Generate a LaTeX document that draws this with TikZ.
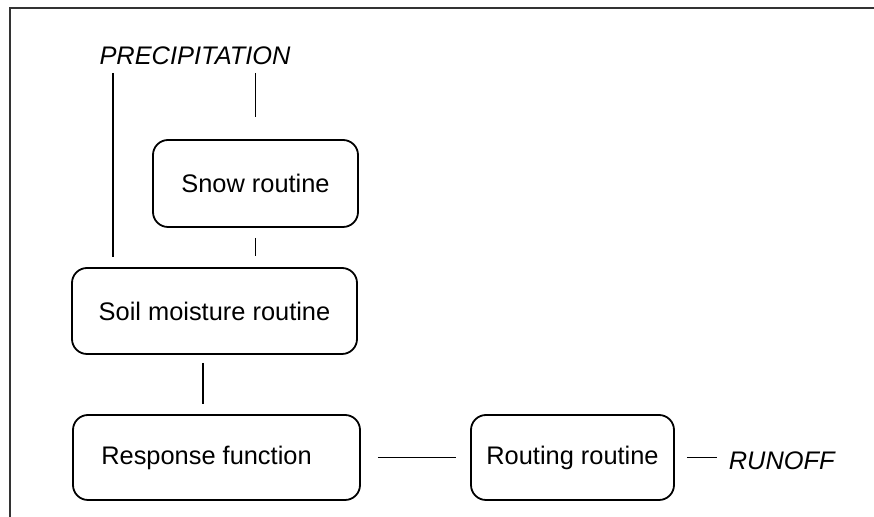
\documentclass[tikz,border=0pt]{standalone}
\usepackage{fontspec}
\setmainfont{Liberation Sans}
\begin{document}
\begin{tikzpicture}[x=0.5pt,y=-0.5pt,line width=0.9pt,
    routine/.style={draw,rounded corners=7.5pt,inner sep=0pt},
    flowname/.style={inner sep=0pt,font=\fontsize{12.7}{15}\selectfont\itshape},
    link/.style={line width=0.9pt},
    font=\fontsize{12.7}{15}\selectfont]
    \useasboundingbox (0,0) rectangle (874,517);
    \draw[line width=1pt,black!80] (9.5,517) -- (9.5,8.5) -- (874,8.5);

    \node[flowname] (precip) at (195,56) {PRECIPITATION};
    \node[routine,minimum width=102.5pt,minimum height=43.5pt] (snow) at (255.5,183.5) {Snow routine};
    \node[routine,minimum width=142.5pt,minimum height=43pt] (soil) at (214.5,311) {Soil moisture routine};
    \node[routine,minimum width=143.5pt,minimum height=42.5pt] (response) at (216.5,457.5) {Response function\rule{10pt}{0pt}};
    \node[routine,minimum width=101.5pt,minimum height=42.5pt] (routing) at (572.5,457.5) {Routing routine};
    \node[flowname,anchor=west] (runoff) at (728,461) {RUNOFF};

    \path ([xshift=21pt]soil.north west) coordinate (soilin);
    \path ([xshift=-5.75pt]soil.south) coordinate (soilout);
    \draw[link,shorten <=3.5pt,shorten >=5pt] (soilin |- precip.south) -- (soilin);
    \draw[link,shorten <=3.5pt,shorten >=11pt] (precip.south -| snow.north) -- (snow.north);
    \draw[link,shorten <=5pt,shorten >=5.5pt] (snow.south) -- (snow.south |- soil.north);
    \draw[link,shorten <=4pt,shorten >=5pt] (soilout) -- (soilout |- response.north);
    \draw[link,shorten <=8.5pt,shorten >=7pt] (response.east) -- (routing.west);
    \draw[link,shorten <=6pt,shorten >=5.5pt] (routing.east) -- (routing.east -| runoff.west);
\end{tikzpicture}
\end{document}
